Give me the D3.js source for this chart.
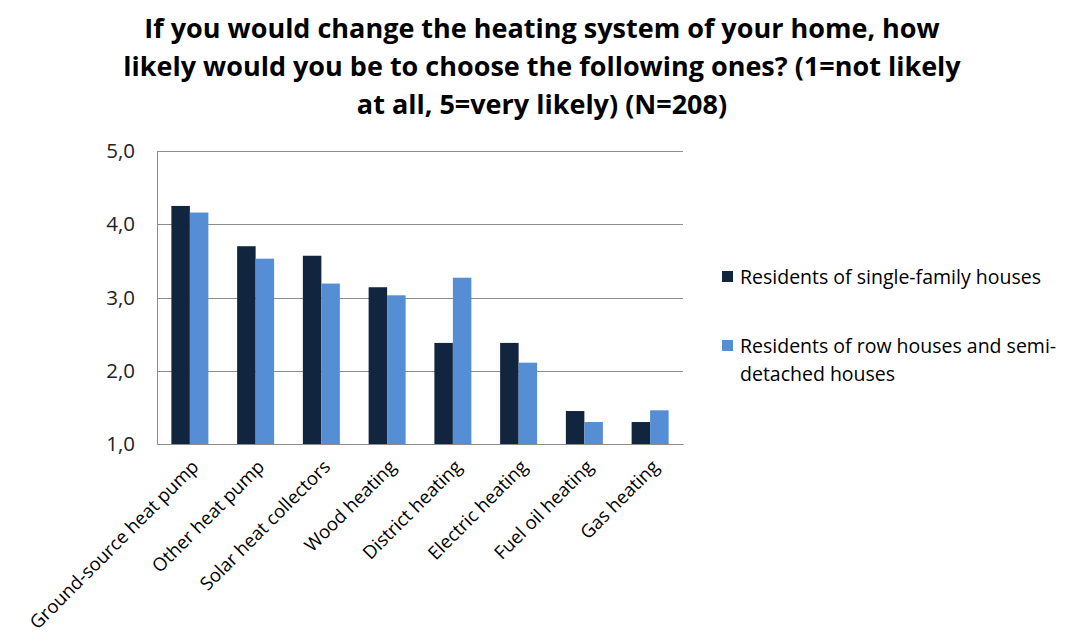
<!DOCTYPE html>
<html>
<head>
<meta charset="utf-8">
<script src="https://cdn.jsdelivr.net/npm/d3@7"></script>
<style>
  body { margin: 0; background: #fff; }
  svg { display: block; font-family: "Open Sans", sans-serif; }
</style>
</head>
<body>
<svg id="chart"></svg>
<script>
var titleLines = [
  "If you would change the heating system of your home, how",
  "likely would you be to choose the following ones? (1=not likely",
  "at all, 5=very likely) (N=208)"
];
var categories = [
  "Ground-source heat pump", "Other heat pump", "Solar heat collectors",
  "Wood heating", "District heating", "Electric heating",
  "Fuel oil heating", "Gas heating"
];
var seriesNames = ["Residents of single-family houses", "Residents of row houses and semi-detached houses"];
var legendLines = [
  ["Residents of single-family houses"],
  ["Residents of row houses and semi-", "detached houses"]
];
var singleFamily = [4.25, 3.70, 3.57, 3.14, 2.38, 2.38, 1.45, 1.30];
var rowHouses    = [4.16, 3.53, 3.19, 3.03, 3.27, 2.11, 1.30, 1.46];
var yTicks = [1, 2, 3, 4, 5];

var width = 1067, height = 641;
var margin = {top: 151, right: 384, bottom: 197, left: 157};
var colors = ["#11253f", "#558ed5"];

var svg = d3.select("#chart")
  .attr("width", width)
  .attr("height", height);

var rows = categories.map(function(c, i) {
  return {cat: c, values: [singleFamily[i], rowHouses[i]]};
});

var x = d3.scaleBand()
  .domain(categories)
  .range([margin.left, width - margin.right]);

var x1 = d3.scaleBand()
  .domain(d3.range(seriesNames.length))
  .range([0, x.bandwidth()])
  .paddingOuter(0.777);

var y = d3.scaleLinear()
  .domain([1, 5])
  .range([height - margin.bottom, margin.top]);

var fmt = d3.formatLocale({decimal: ",", thousands: " ", grouping: [3], currency: ["", ""]}).format(".1f");

// title
svg.append("g")
  .selectAll("text")
  .data(titleLines)
  .join("text")
    .attr("x", 542)
    .attr("y", (d, i) => 38 + i * 38)
    .attr("text-anchor", "middle")
    .attr("font-size", 27)
    .attr("font-weight", "bold")
    .attr("fill", "#000")
    .text(d => d);

// gridlines
svg.append("g")
  .selectAll("line")
  .data(yTicks.slice(1))
  .join("line")
    .attr("x1", margin.left)
    .attr("x2", width - margin.right)
    .attr("y1", d => Math.round(y(d)) + 0.5)
    .attr("y2", d => Math.round(y(d)) + 0.5)
    .attr("stroke", "#8c8c8c");

// bars
svg.append("g")
  .selectAll("g")
  .data(rows)
  .join("g")
    .attr("transform", d => `translate(${x(d.cat)},0)`)
  .selectAll("rect")
  .data(d => d.values)
  .join("rect")
    .attr("x", (d, i) => x1(i))
    .attr("width", x1.bandwidth())
    .attr("y", d => y(d))
    .attr("height", d => y(1) - y(d))
    .attr("fill", (d, i) => colors[i]);

// y axis
var yAxis = svg.append("g")
  .attr("transform", `translate(${margin.left},0)`)
  .call(d3.axisLeft(y).tickValues(yTicks).tickFormat(fmt).tickSize(0).tickPadding(22));
yAxis.select(".domain").attr("stroke", "#8c8c8c");
yAxis.selectAll("text")
  .attr("font-size", 20.5)
  .attr("font-family", "Open Sans, sans-serif")
  .attr("fill", "#222");

// x axis
var xAxis = svg.append("g")
  .attr("transform", `translate(0,${height - margin.bottom})`)
  .call(d3.axisBottom(x).tickSize(0).tickSizeOuter(0));
xAxis.select(".domain").attr("stroke", "#8c8c8c");
xAxis.selectAll("text")
  .attr("font-size", 18.5)
  .attr("font-family", "Open Sans, sans-serif")
  .attr("fill", "#000")
  .attr("text-anchor", "end")
  .attr("dy", 0)
  .attr("y", 0)
  .attr("transform", "translate(10,24) rotate(-45)");

// legend
var legend = svg.append("g")
  .attr("transform", "translate(722,0)");

var items = legend.selectAll("g")
  .data(legendLines)
  .join("g")
    .attr("transform", (d, i) => `translate(0,${271 + i * 69})`);

items.append("rect")
  .attr("width", 11)
  .attr("height", 11)
  .attr("fill", (d, i) => colors[i]);

items.append("text")
  .attr("x", 18)
  .attr("y", 13)
  .attr("font-size", 19.5)
  .attr("fill", "#000")
  .selectAll("tspan")
  .data(d => d)
  .join("tspan")
    .attr("x", 18)
    .attr("dy", (d, i) => i === 0 ? 0 : 28)
    .text(d => d);
</script>
</body>
</html>
